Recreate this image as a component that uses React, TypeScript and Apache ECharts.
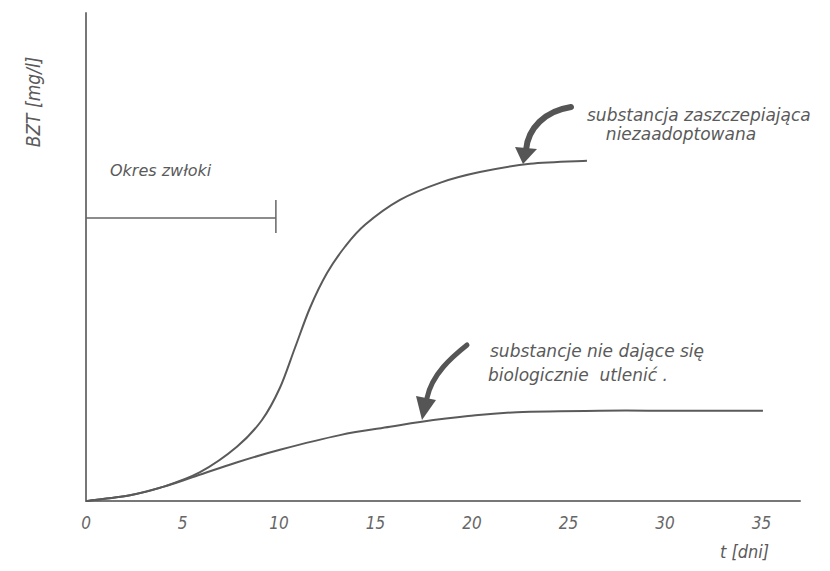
import React, { useEffect, useRef } from "react";
import * as echarts from "echarts";

const xTicks = [0, 5, 10, 15, 20, 25, 30, 35];
const upperCurve: [number, number][] = [
  [0, 0], [2.28, 1.2], [3.99, 2.9], [5.91, 5.9], [7.82, 11.1], [9.12, 16.6],
  [10.05, 23.2], [10.83, 31.4], [11.61, 39.6], [12.49, 46.7], [13.42, 52.1],
  [14.46, 56.6], [16.27, 61.7], [18.34, 65.2], [20.41, 67.4], [23.01, 69.1], [25.96, 69.7],
];
const lowerCurve: [number, number][] = [
  [0, 0], [2.28, 1.2], [3.99, 2.9], [5.54, 4.9], [7.8, 7.9], [10.05, 10.5], [13.16, 13.5],
  [15.75, 15.2], [17.31, 16.2], [19.8, 17.4], [22.33, 18.2], [26.63, 18.5], [30.5, 18.5], [35.08, 18.5],
];
const lagLine: [number, number][] = [[0, 58], [9.84, 58]];
const lagTick: [number, number][] = [[9.84, 54.9], [9.84, 61.7]];

const INK = "#5a5a5a";
const FONT = "DejaVu Sans Condensed";
const FONT_W = "DejaVu Sans";

function splinePath(pts: number[][]): string {
  let d = `M${pts[0][0]},${pts[0][1]}`;
  for (let i = 0; i < pts.length - 1; i++) {
    const p0 = pts[i - 1] || pts[i];
    const p1 = pts[i];
    const p2 = pts[i + 1];
    const p3 = pts[i + 2] || p2;
    const c1x = p1[0] + (p2[0] - p0[0]) / 6;
    const c1y = p1[1] + (p2[1] - p0[1]) / 6;
    const c2x = p2[0] - (p3[0] - p1[0]) / 6;
    const c2y = p2[1] - (p3[1] - p1[1]) / 6;
    d += ` C${c1x},${c1y} ${c2x},${c2y} ${p2[0]},${p2[1]}`;
  }
  return d;
}

function curveSeries(data: [number, number][]) {
  return {
    type: "custom",
    data,
    silent: true,
    renderItem: (params: any, api: any) => {
      if (params.dataIndex !== 0) return null;
      const pts = data.map((p) => api.coord(p));
      return {
        type: "path",
        shape: { pathData: splinePath(pts) },
        style: { fill: "none", stroke: INK, lineWidth: 2 },
      };
    },
  };
}

export default function App() {
  const ref = useRef<HTMLDivElement>(null);
  useEffect(() => {
    document.body.style.margin = "0";
    const chart = echarts.init(ref.current!, null, { renderer: "svg" });
    const txt = (x: number, y: number, text: string, size: number, align = "left", fam = FONT_W) => ({
      type: "text",
      x,
      y,
      style: {
        text,
        fill: INK,
        font: `italic ${size}px "${fam}"`,
        textAlign: align,
        textVerticalAlign: "middle",
      },
    });
    chart.setOption({
      animation: false,
      backgroundColor: "#ffffff",
      grid: { left: 86, right: 30, top: 13, bottom: 70 },
      xAxis: {
        type: "value",
        min: 0,
        max: 37,
        interval: 5,
        axisLine: { show: true, onZero: false, lineStyle: { color: "#777", width: 2 } },
        axisTick: { show: false },
        splitLine: { show: false },
        axisLabel: {
          showMaxLabel: false,
          margin: 13,
          color: "#666",
          fontFamily: FONT,
          fontStyle: "italic",
          fontSize: 17,
          formatter: (v: number) => (xTicks.includes(v) ? String(v) : ""),
        },
      },
      yAxis: {
        type: "value",
        min: 0,
        max: 100,
        axisLine: { show: true, onZero: false, lineStyle: { color: "#777", width: 2 } },
        axisTick: { show: false },
        axisLabel: { show: false },
        splitLine: { show: false },
      },
      series: [
        curveSeries(upperCurve),
        curveSeries(lowerCurve),
        {
          type: "line",
          data: lagLine,
          showSymbol: false,
          lineStyle: { color: "#666", width: 1.5 },
        },
        {
          type: "line",
          data: lagTick,
          showSymbol: false,
          lineStyle: { color: "#666", width: 1.5 },
        },
      ],
      graphic: [
        {
          type: "text",
          x: 33,
          y: 102,
          rotation: Math.PI / 2,
          style: {
            text: "BZT [mg/l]",
            fill: INK,
            font: `italic 19px "${FONT}"`,
            textAlign: "center",
            textVerticalAlign: "middle",
          },
        },
        txt(110, 170, "Okres zwłoki", 16),
        txt(587, 115, "substancja zaszczepiająca", 17),
        txt(681, 134, "niezaadoptowana", 17, "center"),
        txt(490, 351, "substancje nie dające się", 17),
        txt(488, 375, "biologicznie  utlenić .", 17),
        txt(720, 551, "t [dni]", 18, "left", FONT),
        {
          type: "bezierCurve",
          shape: { x1: 571, y1: 107, cpx1: 545, cpy1: 111, cpx2: 528, cpy2: 128, x2: 526, y2: 150 },
          style: { stroke: "#555", lineWidth: 6, fill: "none", lineCap: "round" },
        },
        {
          type: "polygon",
          shape: { points: [[515, 147], [537, 149], [523, 164]] },
          style: { fill: "#555" },
        },
        {
          type: "bezierCurve",
          shape: { x1: 467, y1: 345, cpx1: 452, cpy1: 357, cpx2: 432, cpy2: 374, x2: 427, y2: 398 },
          style: { stroke: "#555", lineWidth: 5, fill: "none", lineCap: "round" },
        },
        {
          type: "polygon",
          shape: { points: [[416, 396], [436, 400], [422, 420]] },
          style: { fill: "#555" },
        },
      ],
    });
    return () => chart.dispose();
  }, []);
  return (
    <div
      ref={ref}
      style={{ position: "absolute", left: 0, top: 0, width: 830, height: 571 }}
    />
  );
}
